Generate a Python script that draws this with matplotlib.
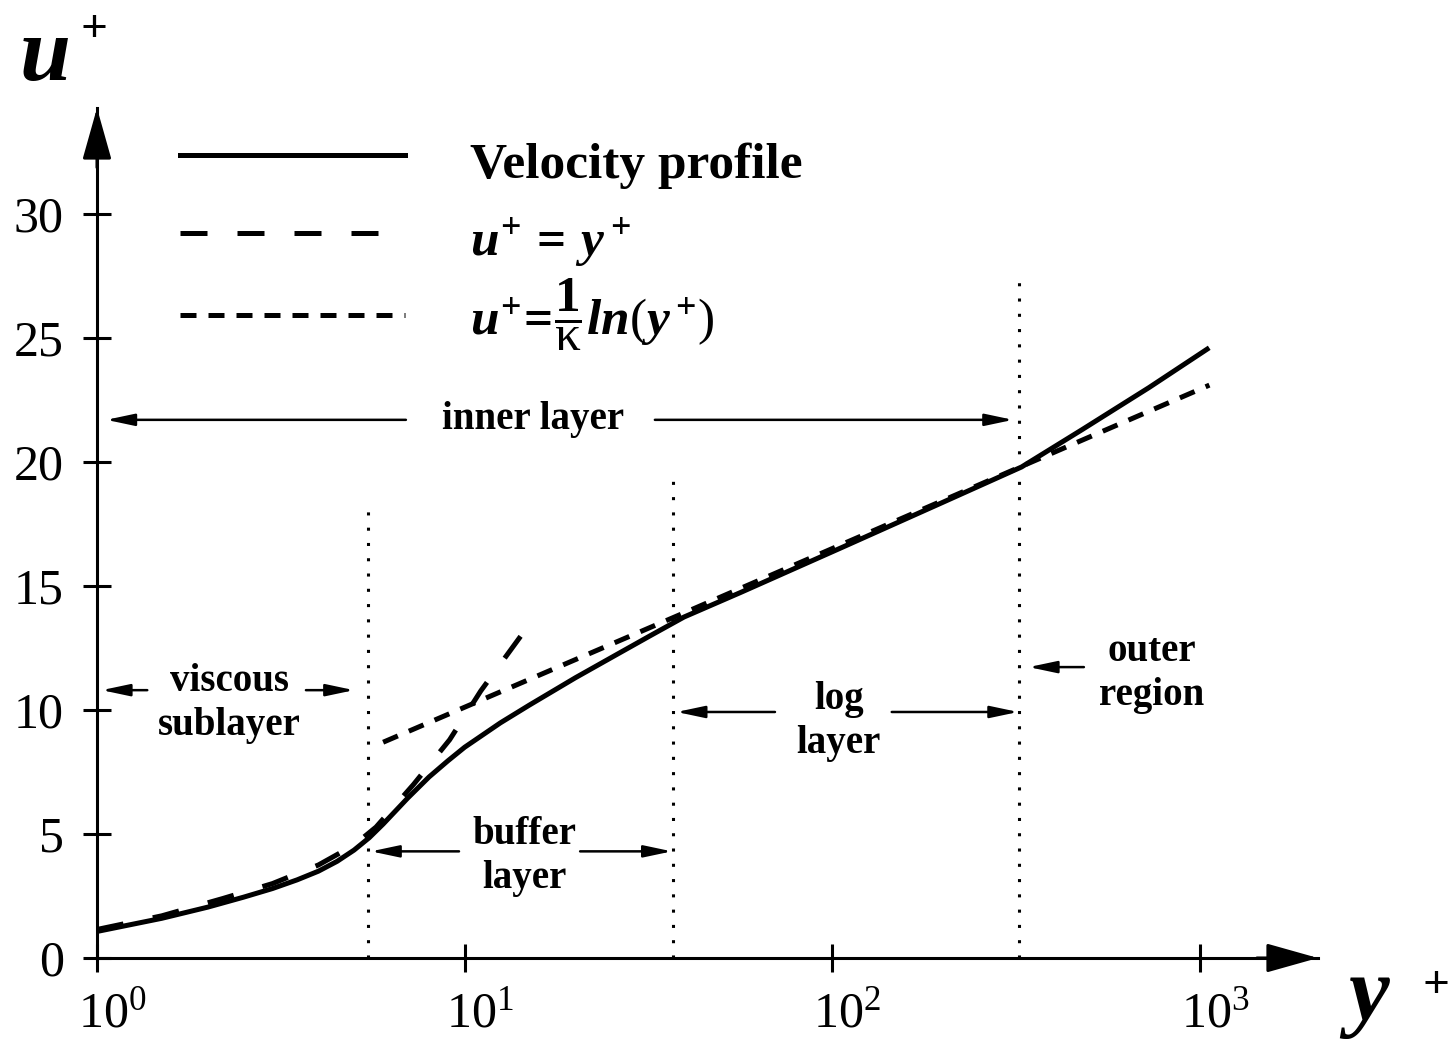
import numpy as np
import matplotlib
matplotlib.use('Agg')
import matplotlib.pyplot as plt
from matplotlib.ticker import NullLocator
from matplotlib.lines import Line2D
from matplotlib.transforms import ScaledTranslation

# values
yp_profile = [1.0, 1.5, 2.0, 2.5, 3.0, 3.5, 4.0, 4.5, 5.0, 5.5, 6.0, 7.0, 8.0, 9.0,
              10, 12.5, 15, 20, 26, 32, 39.5, 56.5, 106, 198, 327, 477, 726, 1045]
u_profile = [1.07, 1.6, 2.05, 2.45, 2.8, 3.15, 3.5, 3.9, 4.35, 4.85, 5.4, 6.45, 7.3, 7.95,
             8.5, 9.48, 10.2, 11.3, 12.25, 13.0, 13.75, 14.75, 16.55, 18.35, 19.8, 21.3,
             23.0, 24.55]

yp_linear = [1.0, 1.5, 2.2, 3.0, 4.0, 5.0, 5.74, 7.26, 9.1, 11.06, 14.4]
u_linear = [1.15, 1.7, 2.4, 3.0, 3.75, 4.55, 5.28, 7.0, 8.8, 10.77, 13.1]

yp_log = [6.0, 40, 330, 1060]
u_log = [8.7, 13.95, 19.85, 23.1]

yp_bounds = [5.45, 36.8, 322]
u_bound_top = [18.2, 19.5, 27.7]

y_ticks = [0, 5, 10, 15, 20, 25, 30]
x_ticks = [1, 10, 100, 1000]

labels = ['Velocity profile',
          r'$u^{\mathbf{+}}\,\mathbf{=}\,y^{\,\mathbf{+}}$',
          r'$u^{\mathbf{+}}\!\mathbf{=}\!\dfrac{\mathbf{1}}{\mathrm{\kappa}}ln(y^{\,\mathbf{+}})$']

plt.rcParams['font.family'] = ['Liberation Serif', 'DejaVu Serif']
plt.rcParams['mathtext.fontset'] = 'custom'
plt.rcParams['mathtext.rm'] = 'Liberation Serif'
plt.rcParams['mathtext.it'] = 'Liberation Serif:italic:bold'
plt.rcParams['mathtext.bf'] = 'Liberation Serif:bold'

W, H = 1453, 1044
fig = plt.figure(figsize=(W/100, H/100), dpi=100)

def fx(px):
    return px/W
def fy(py):
    return 1 - py/H

ax = fig.add_axes([fx(97), fy(958), (1318-97)/W, (958-108)/H])
ax.set_xscale('log')
ax.set_xlim(1, 10**((1318-97)/367.7))
ax.set_ylim(0, (958-108)/24.8)

lw = 3.6
solid = dict(color='k', lw=lw, solid_joinstyle='round')
longdash = dict(color='k', lw=lw, dashes=(5.4, 6.0))
shortdash = dict(color='k', lw=lw, dashes=(3.2, 2.4))

ax.plot(yp_linear, u_linear, **longdash)
ax.plot(yp_log, u_log, **shortdash)
ax.plot(yp_profile, u_profile, **solid)

for xb, ub in zip(yp_bounds, u_bound_top):
    ax.plot([xb, xb], [0, ub], color='k', lw=2.2, linestyle=(0, (1, 4)))

# axes as arrows
for s in ['top', 'right']:
    ax.spines[s].set_visible(False)
for s in ['left', 'bottom']:
    ax.spines[s].set_linewidth(2.2)
head = dict(arrowstyle='-|>,head_length=1.6,head_width=0.45', mutation_scale=20,
            color='k', lw=2.2, shrinkA=0, shrinkB=0)
ax.annotate('', xy=(1, 0), xytext=(0.95, 0), xycoords='axes fraction', arrowprops=head,
            annotation_clip=False)
ax.annotate('', xy=(0, 1), xytext=(0, 0.93), xycoords='axes fraction', arrowprops=head,
            annotation_clip=False)

ax.set_xticks(x_ticks)
ax.xaxis.set_minor_locator(NullLocator())
ax.set_yticks(y_ticks)
ax.tick_params(direction='inout', length=20, width=2.2, labelsize=36, pad=14)
for lab in ax.get_xticklabels():
    lab.set_transform(lab.get_transform() + ScaledTranslation(0.15, 0, fig.dpi_scale_trans))

# region labels with arrows
arr = dict(arrowstyle='-|>,head_length=0.85,head_width=0.18', mutation_scale=20,
           color='k', lw=1.8, shrinkA=0, shrinkB=0)
def harrow(x0, x1, u):
    ax.annotate('', xy=(x1, u), xytext=(x0, u), arrowprops=arr)

tkw = dict(fontsize=28, fontweight='bold', ha='center', va='center', linespacing=1.25)

ax.text(15.3, 21.7, 'inner layer', **tkw)
harrow(6.92, 1.06, 21.7)
harrow(32.9, 310, 21.7)

ax.text(2.29, 10.25, 'viscous\nsublayer', **tkw)
harrow(1.37, 1.03, 10.8)
harrow(3.7, 5.0, 10.8)

ax.text(14.5, 4.1, 'buffer\nlayer', **tkw)
harrow(9.65, 5.56, 4.3)
harrow(20.6, 36.6, 4.3)

ax.text(104, 9.55, 'log\nlayer', **tkw)
harrow(69.8, 37.7, 9.92)
harrow(145, 320, 9.92)

ax.text(740, 11.48, 'outer\nregion', **tkw)
harrow(483, 342, 11.73)

# legend drawn by hand
for py, sty in zip([155, 233, 315], [solid, longdash, shortdash]):
    fig.add_artist(Line2D([fx(180), fx(405)], [fy(py), fy(py)], **sty))
for py, lab in zip([178, 255, 335], labels):
    fig.text(fx(470), fy(py), lab, fontsize=37, fontweight='bold', ha='left',
             va='baseline')

# axis names
fig.text(fx(20), fy(80), 'u', fontsize=66, fontweight='bold', style='italic',
         ha='left', va='baseline')
fig.text(fx(94), fy(31), '+', fontsize=34, fontweight='bold', ha='center', va='center')
fig.text(fx(1348), fy(1020), 'y', fontsize=66, fontweight='bold', style='italic',
         ha='left', va='baseline')
fig.text(fx(1436), fy(987), '+', fontsize=34, fontweight='bold', ha='center', va='center')

plt.savefig('out.png', dpi=100)
